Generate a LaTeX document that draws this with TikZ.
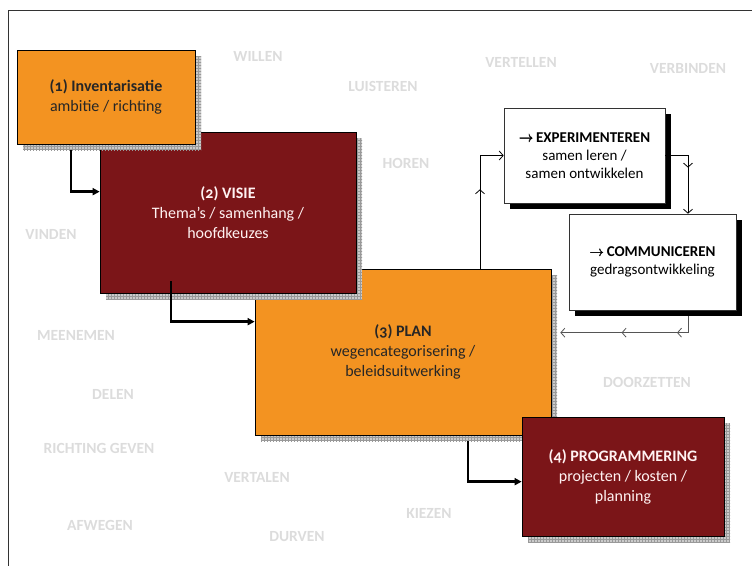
\documentclass[tikz,border=0pt]{standalone}
\usepackage{fontspec}
\setmainfont{Carlito}[Numbers=OldStyle]
\usetikzlibrary{arrows.meta,patterns,shadows,calc,decorations.markings}

\definecolor{planorange}{HTML}{F39321}
\definecolor{darkred}{HTML}{7B1518}
\definecolor{wordgray}{HTML}{DCDCDC}
\definecolor{linegray}{HTML}{555555}
\definecolor{gridfill}{HTML}{CACACA}
\definecolor{gridline}{HTML}{999999}

\tikzset{
  word/.style={font=\bfseries\fontsize{15.5}{17}\selectfont, text=wordgray},
  gridshadow/.style={
    general shadow={fill=gridfill, shadow xshift=6pt, shadow yshift=-6pt},
    general shadow={pattern=grid, pattern color=gridline, shadow xshift=6pt, shadow yshift=-6pt}},
  stagebox/.style={draw=black, line width=0.7pt, inner sep=0pt, align=center,
    font=\fontsize{16}{20}\selectfont, gridshadow},
  orangebox/.style={stagebox, fill=planorange, text=black!85},
  redbox/.style={stagebox, fill=darkred, text=white!95!red},
  actionbox/.style={draw=black!80, line width=0.6pt, fill=white, inner sep=0pt,
    align=center, font=\fontsize{15}{18}\selectfont,
    general shadow={fill=black, shadow xshift=6pt, shadow yshift=-6pt}},
  flow/.style={line width=2.4pt, -{Triangle[length=7pt,width=7pt]}},
  loopline/.style={line width=0.8pt, draw=#1,
    -{Straight Barb[length=4pt,width=9pt]}},
  midarrow/.style={postaction={decorate, decoration={markings,
    mark=at position #1 with {\arrow{Straight Barb[length=4pt,width=9pt]}}}}},
}

% heavy arrow sign in front of the loop headings
\newcommand{\arr}{\rlap{$\rightarrow$}\raisebox{0.35pt}{\rlap{$\rightarrow$}}\kern0.4pt$\rightarrow$\,}

\begin{document}
\begin{tikzpicture}[x=1pt,y=-1pt]
\useasboundingbox (0,0) rectangle (752,566);

% frame
\draw[line width=0.8pt, black!80] (752,10) -- (8,10) -- (8,566);

% background verbs
\node[word] (w1) at (258,56) {WILLEN};
\node[word] (w2) at (383,86) {LUISTEREN};
\node[word] (w3) at (521,62) {VERTELLEN};
\node[word] (w4) at (688,68) {VERBINDEN};
\node[word] (w5) at (406,163) {HOREN};
\node[word] (w6) at (51,234) {VINDEN};
\node[word] (w7) at (76,335) {MEENEMEN};
\node[word] (w8) at (113,394) {DELEN};
\node[word] (w9) at (99,448) {RICHTING GEVEN};
\node[word] (w10) at (257,477) {VERTALEN};
\node[word] (w11) at (100,525) {AFWEGEN};
\node[word] (w12) at (297,537) {DURVEN};
\node[word] (w13) at (429,513) {KIEZEN};
\node[word] (w14) at (647,382) {DOORZETTEN};

% stages (drawn back to front)
\node[orangebox, minimum width=296pt, minimum height=166pt] (plan) at (403,352)
  {\textbf{(3) PLAN}\\wegencategorisering /\\beleidsuitwerking};
\node[redbox, minimum width=256pt, minimum height=161pt] (visie) at (228,212.5)
  {\textbf{(2) VISIE}\\Thema’s / samenhang /\\hoofdkeuzes};
\node[orangebox, minimum width=178pt, minimum height=94pt] (inv) at (106,97)
  {\textbf{(1) Inventarisatie}\\ambitie / richting};
\node[redbox, minimum width=202pt, minimum height=119pt] (prog) at (623,476.5)
  {\textbf{(4) PROGRAMMERING}\\projecten / kosten /\\planning};

% feedback loop
\node[actionbox, minimum width=161pt, minimum height=95pt] (exp) at (584.5,155.5)
  {\textbf{\arr EXPERIMENTEREN}\\samen leren /\\samen ontwikkelen};
\node[actionbox, minimum width=167pt, minimum height=96pt] (comm) at (652.5,262)
  {\textbf{\arr COMMUNICEREN}\\gedragsontwikkeling};

% main flow
\draw[flow] ([xshift=-35pt,yshift=-6pt]inv.south) |- ($(visie.north west)+(0,60)$);
\draw[flow] ([xshift=-57pt,yshift=12pt]visie.south) |- ($(plan.north west)+(0,53)$);
\draw[flow] ([xshift=65pt,yshift=-6pt]plan.south) |- ($(prog.north west)+(0,65)$);

% loop connectors
\draw[loopline=black, midarrow=0.58] ([xshift=77pt]plan.north) |- (exp.west);
\draw[loopline=black, midarrow=0.43] (exp.east) -| ([xshift=35.5pt]comm.north);
\draw[loopline=linegray, midarrow=0.19, midarrow=0.575]
  ([xshift=35.5pt,yshift=-6pt]comm.south) |- ($(plan.north east)+(9,64)$);
\end{tikzpicture}
\end{document}
